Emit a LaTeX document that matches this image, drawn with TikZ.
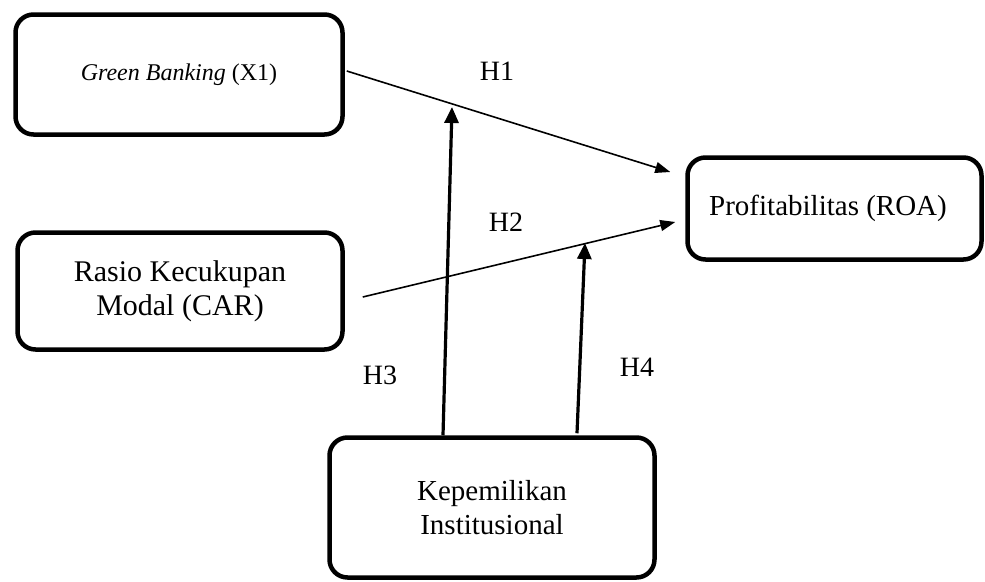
\documentclass[tikz,border=0pt]{standalone}
\usepackage{fontspec}
\setmainfont{Liberation Serif}
\usetikzlibrary{arrows.meta,calc}
\begin{document}
\begin{tikzpicture}[x=1pt,y=-1pt,
  box/.style={draw, line width=4.5pt, rounded corners=18pt, align=center,
    font=\fontsize{29}{34}\selectfont, inner sep=0pt},
  thinarrow/.style={line width=1.6pt, -{Triangle[length=15pt,width=11pt]}},
  thickarrow/.style={line width=3.2pt, -{Triangle[length=16pt,width=14pt]}},
  hlab/.style={font=\fontsize{28}{32}\selectfont, inner sep=0pt}]
\useasboundingbox (0,0) rectangle (985,581);

\node[box, minimum width=327pt, minimum height=120pt, font=\fontsize{24}{28}\selectfont]
  (gb) at (179,74.5) {\textit{Green Banking} (X1)};
\node[box, minimum width=325pt, minimum height=117pt, font=\fontsize{30}{34}\selectfont]
  (car) at (180,291) {Rasio Kecukupan\\Modal (CAR)};
\node[box, minimum width=325pt, minimum height=140pt]
  (ki) at (492,507.5) {Kepemilikan\\Institusional};
\node[box, minimum width=294pt, minimum height=102pt]
  (roa) at (834.5,208.5) {\hspace*{-13pt}Profitabilitas (ROA)};

\coordinate (t1) at ($(roa.west)+(-15,-36.5)$);
\coordinate (t2) at ($(roa.west)+(-10,13.5)$);
\coordinate (s2) at ($(car.east)+(18,6)$);
\coordinate (t3) at (452,107);
\coordinate (t4) at (585,243);

\draw[thinarrow] ($(gb.east)+(2,-3.5)$) -- (t1);
\draw[thinarrow] (s2) -- (t2);
\draw[thickarrow] ($(ki.north)+(-49,0)$) -- (t3);
\draw[thickarrow] ($(ki.north)+(85,-2)$) -- (t4);

\node[hlab] (h1) at (497,71) {H1};
\node[hlab] (h2) at (506,222) {H2};
\node[hlab] (h3) at (380,375) {H3};
\node[hlab] (h4) at (637,367) {H4};
\end{tikzpicture}
\end{document}
